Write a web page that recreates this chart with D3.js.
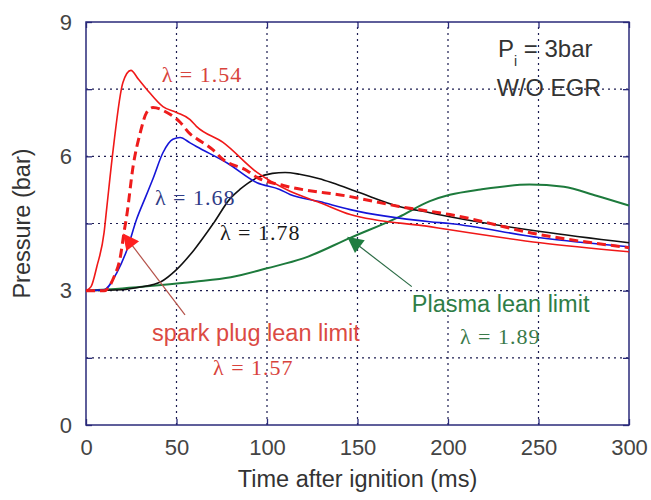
<!DOCTYPE html>
<html>
<head>
<meta charset="utf-8">
<script src="https://cdn.jsdelivr.net/npm/d3@7"></script>
<style>
  body { margin: 0; background: #fff; }
  text { font-family: "Liberation Sans", Arial, sans-serif; }
  .serif { font-family: "Liberation Serif", "Times New Roman", serif; letter-spacing: 1px; }
</style>
</head>
<body>
<script>
// pressure traces after ignition
const t154 = [0, 2.8, 6, 10, 11.6, 15, 20.4, 24.8, 29, 33.5, 42.5, 50, 57.5, 61, 75.7, 94.5, 112.7, 129, 146, 190, 201, 251, 300];
const p154 = [3.0, 3.09, 3.54, 4.3, 4.9, 6.15, 7.65, 7.92, 7.72, 7.5, 7.11, 6.98, 6.82, 6.67, 6.31, 5.64, 5.22, 4.97, 4.70, 4.43, 4.36, 4.07, 3.87];

const t157 = [0, 10, 15.5, 19, 21, 22.6, 26, 30, 33.5, 37, 44.7, 52, 57.5, 61, 70, 75.7, 89, 94.5, 109, 146, 173, 201, 251, 300];
const p157 = [3.0, 3.0, 3.31, 3.76, 4.3, 4.7, 5.77, 6.53, 6.98, 7.09, 6.98, 6.76, 6.5, 6.4, 6.15, 5.93, 5.68, 5.53, 5.35, 5.1, 4.88, 4.7, 4.25, 3.96];

const t168 = [0, 10, 17, 22.6, 28, 33, 37, 42.5, 48, 52, 57.5, 61, 78, 94.5, 107, 112.7, 129, 146, 190, 201, 251, 300];
const p168 = [3.0, 3.02, 3.4, 3.91, 4.6, 5.1, 5.5, 6.08, 6.38, 6.42, 6.3, 6.22, 5.85, 5.41, 5.26, 5.15, 4.99, 4.81, 4.54, 4.5, 4.18, 3.98];

const t178 = [0, 20, 30, 41.4, 50, 59.7, 70.7, 79.5, 85, 94.5, 103, 110, 118, 129, 136, 151, 173, 190, 201, 251, 300];
const p178 = [3.0, 3.02, 3.08, 3.2, 3.47, 3.91, 4.52, 5.05, 5.26, 5.52, 5.62, 5.64, 5.6, 5.5, 5.41, 5.19, 4.88, 4.74, 4.65, 4.32, 4.07];

const t189 = [0, 20, 40, 60, 80, 100, 120, 146, 173, 190, 201, 218, 245, 264, 282, 300];
const p189 = [3.0, 3.05, 3.12, 3.2, 3.3, 3.5, 3.72, 4.18, 4.65, 5.0, 5.14, 5.26, 5.37, 5.32, 5.12, 4.9];

const xTicks = [0, 50, 100, 150, 200, 250, 300];
const yTicks = [0, 1.5, 3, 4.5, 6, 7.5, 9];
const yLabels = [0, 3, 6, 9];

const width = 651, height = 500;
const margin = {top: 22, right: 22, bottom: 75, left: 86};

const svg = d3.select("body").append("svg")
  .attr("width", width)
  .attr("height", height);

const x = d3.scaleLinear().domain([0, 300]).range([margin.left, width - margin.right]);
const y = d3.scaleLinear().domain([0, 9]).range([height - margin.bottom, margin.top]);

const axisColor = "#2a2a7a";

// dotted grid
svg.append("g").selectAll("line")
  .data(xTicks.slice(1, -1))
  .join("line")
  .attr("x1", d => x(d)).attr("x2", d => x(d))
  .attr("y1", y(0)).attr("y2", y(9))
  .attr("stroke", "#1c1c50").attr("stroke-dasharray", "2,4").attr("stroke-width", 1.2);

svg.append("g").selectAll("line")
  .data(yTicks.slice(1, -1))
  .join("line")
  .attr("x1", x(0)).attr("x2", x(300))
  .attr("y1", d => y(d)).attr("y2", d => y(d))
  .attr("stroke", "#1c1c50").attr("stroke-dasharray", "2,4").attr("stroke-width", 1.2);

// axes, ticks pointing inward on all four sides
const tickLen = 6;
svg.append("g")
  .attr("transform", `translate(0,${y(0)})`)
  .call(d3.axisBottom(x).tickValues(xTicks).tickSize(-tickLen).tickPadding(14))
  .call(g => g.select(".domain").remove());
svg.append("g")
  .attr("transform", `translate(0,${y(9)})`)
  .call(d3.axisTop(x).tickValues(xTicks).tickSize(-tickLen).tickFormat(""))
  .call(g => g.select(".domain").remove());
svg.append("g")
  .attr("transform", `translate(${x(0)},0)`)
  .call(d3.axisLeft(y).tickValues(yTicks).tickSize(-tickLen).tickPadding(14)
    .tickFormat(d => yLabels.includes(d) ? d : ""))
  .call(g => g.select(".domain").remove());
svg.append("g")
  .attr("transform", `translate(${x(300)},0)`)
  .call(d3.axisRight(y).tickValues(yTicks).tickSize(-tickLen).tickFormat(""))
  .call(g => g.select(".domain").remove());

svg.selectAll(".tick line").attr("stroke", axisColor).attr("stroke-width", 1.3);
svg.selectAll(".tick text")
  .attr("fill", "#444")
  .style("font-size", "22px")
  .style("font-family", "'Liberation Sans', Arial, sans-serif");

svg.append("rect")
  .attr("x", x(0)).attr("y", y(9))
  .attr("width", x(300) - x(0)).attr("height", y(0) - y(9))
  .attr("fill", "none").attr("stroke", axisColor).attr("stroke-width", 1.5);

// curves
const line = d3.line()
  .x(d => x(d[0]))
  .y(d => y(d[1]))
  .curve(d3.curveMonotoneX);

const series = [
  {t: t189, p: p189, color: "#1d7a3c", w: 2, dash: null},
  {t: t178, p: p178, color: "#111", w: 1.6, dash: null},
  {t: t168, p: p168, color: "#1515d8", w: 1.6, dash: null},
  {t: t157, p: p157, color: "#ee1c1c", w: 3, dash: "9,5"},
  {t: t154, p: p154, color: "#f01818", w: 1.6, dash: null}
];

svg.append("g").selectAll("path")
  .data(series)
  .join("path")
  .attr("d", s => line(d3.zip(s.t, s.p)))
  .attr("fill", "none")
  .attr("stroke", s => s.color)
  .attr("stroke-width", s => s.w)
  .attr("stroke-dasharray", s => s.dash);

// arrows
const defs = svg.append("defs");
function marker(id, color) {
  defs.append("marker")
    .attr("id", id)
    .attr("viewBox", "0 0 10 10")
    .attr("refX", 9).attr("refY", 5)
    .attr("markerWidth", 22).attr("markerHeight", 16)
    .attr("markerUnits", "userSpaceOnUse")
    .attr("orient", "auto")
    .append("path")
    .attr("d", "M0,0 L10,5 L0,10 z")
    .attr("fill", color);
}
marker("headRed", "#ff2020");
marker("headGreen", "#1f7d40");

svg.append("line")
  .attr("x1", x(54.7)).attr("y1", y(2.46))
  .attr("x2", x(21)).attr("y2", y(4.25))
  .attr("stroke", "#b5524a").attr("stroke-width", 1.2)
  .attr("marker-end", "url(#headRed)");

svg.append("line")
  .attr("x1", x(180)).attr("y1", y(3.09))
  .attr("x2", x(145)).attr("y2", y(4.18))
  .attr("stroke", "#2b6b45").attr("stroke-width", 1.2)
  .attr("marker-end", "url(#headGreen)");

// labels
const labels = [
  {t: 41.8, p: 7.67, text: "λ = 1.54", color: "#d8433c", serif: true},
  {t: 38.1, p: 4.92, text: "λ = 1.68", color: "#2f3c86", serif: true},
  {t: 74, p: 4.14, text: "λ = 1.78", color: "#1a1a1a", serif: true},
  {t: 36.5, p: 1.88, text: "spark plug lean limit", color: "#db4a43", serif: false},
  {t: 70.2, p: 1.12, text: "λ = 1.57", color: "#d8433c", serif: true},
  {t: 180, p: 2.53, text: "Plasma lean limit", color: "#2e7d46", serif: false},
  {t: 206.6, p: 1.81, text: "λ = 1.89", color: "#3a7a4a", serif: true},
  {t: 227, p: 7.34, text: "W/O EGR", color: "#333", serif: false}
];

svg.append("g").selectAll("text")
  .data(labels)
  .join("text")
  .attr("class", d => d.serif ? "serif" : null)
  .attr("x", d => x(d.t))
  .attr("y", d => y(d.p))
  .attr("fill", d => d.color)
  .style("font-size", d => d.serif ? "22px" : "23.5px")
  .text(d => d.text);

const pi = svg.append("text")
  .attr("x", x(227.6)).attr("y", y(8.21))
  .attr("fill", "#333")
  .style("font-size", "24px");
pi.append("tspan").text("P");
pi.append("tspan").attr("dy", 9).style("font-size", "14px").text("i");
pi.append("tspan").attr("dy", -9).text(" = 3bar");

// axis titles
svg.append("text")
  .attr("x", (x(0) + x(300)) / 2)
  .attr("y", 487)
  .attr("text-anchor", "middle")
  .attr("fill", "#333")
  .style("font-size", "23.5px")
  .text("Time after ignition (ms)");

svg.append("text")
  .attr("transform", `translate(30,${(y(0) + y(9)) / 2}) rotate(-90)`)
  .attr("text-anchor", "middle")
  .attr("fill", "#333")
  .style("font-size", "23.5px")
  .text("Pressure (bar)");
</script>
</body>
</html>
